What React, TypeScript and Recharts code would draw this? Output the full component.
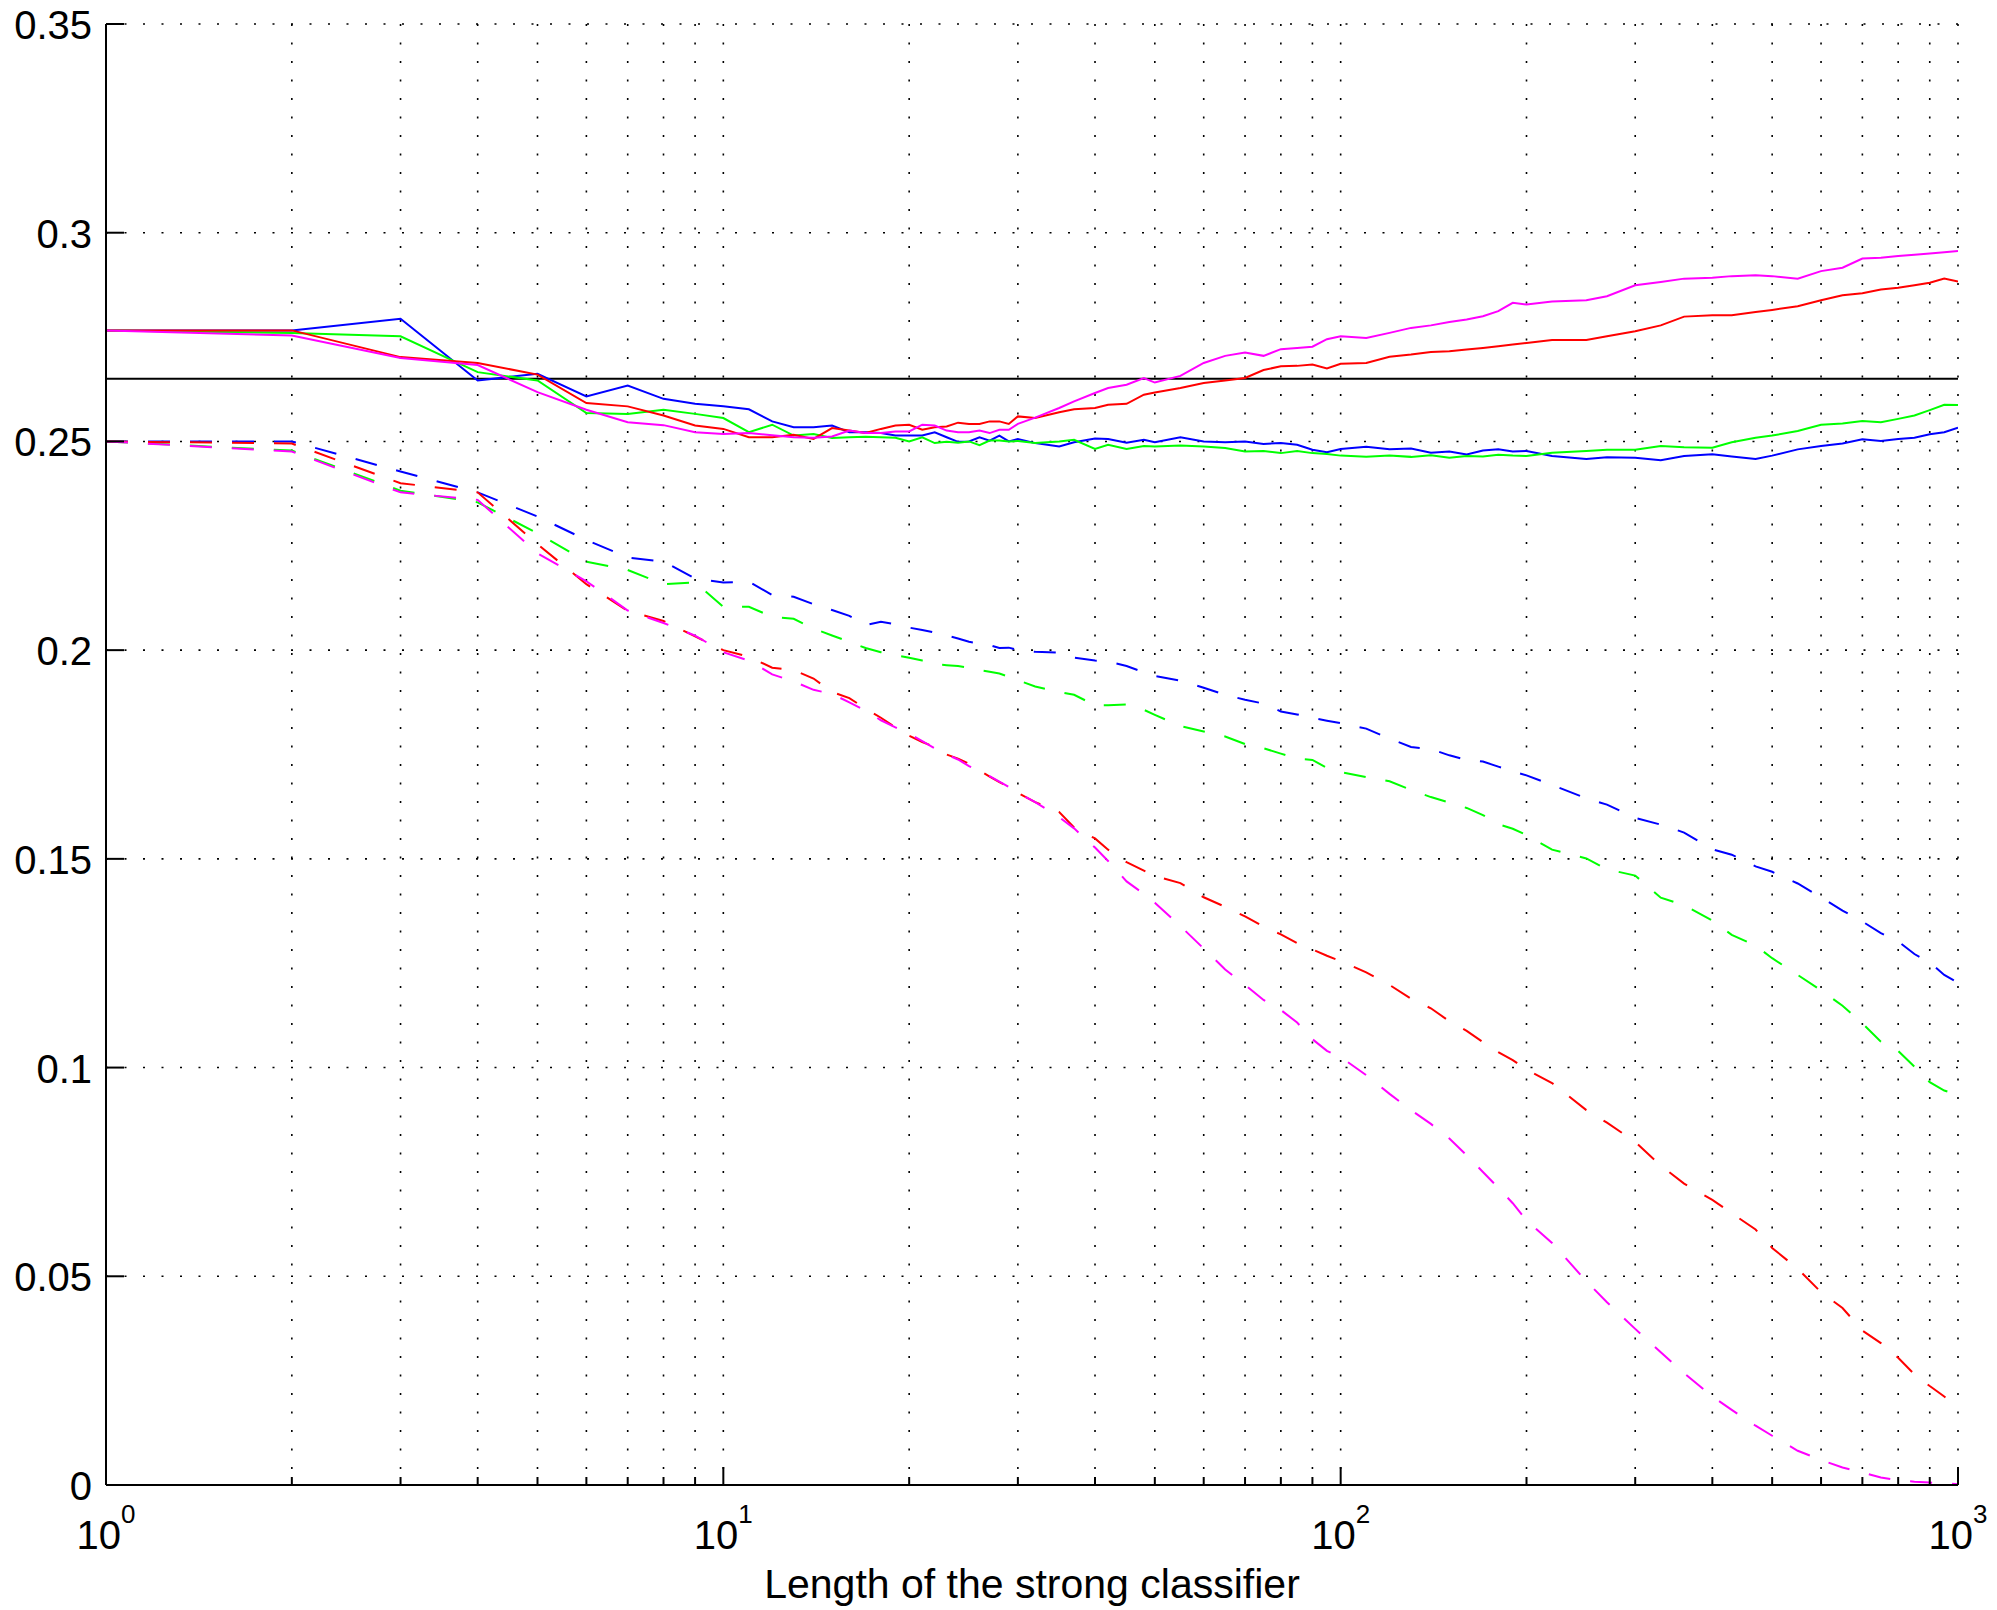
import React from "react";
import { LineChart, Line, XAxis, YAxis, CartesianGrid, ReferenceLine } from "recharts";

const FONT = "'Liberation Sans', Arial, Helvetica, sans-serif";

// classifier lengths (x, log axis)
const lengths = [
  1, 2, 3, 4, 5, 6, 7, 8, 9, 10, 11, 12, 13, 14, 15, 16, 17, 18, 19, 20, 21, 22, 23, 24, 25, 26, 27, 28, 29, 30,
  32, 35, 37, 40, 42, 45, 48, 50, 55, 60, 65, 70, 75, 80, 85, 90, 95, 100,
  110, 120, 130, 140, 150, 160, 170, 180, 190, 200,
  220, 250, 270, 300, 330, 360, 400, 430, 470, 500, 550, 600, 650, 700, 750, 800, 850, 900, 950, 1000,
];

// solid curves
const blueSolid = [
  0.2766, 0.2766, 0.2794, 0.2646, 0.2662, 0.2608, 0.2634, 0.2602, 0.259, 0.2584, 0.2577, 0.2548, 0.2534, 0.2534, 0.2538,
  0.2522, 0.2522, 0.252, 0.2514, 0.2514, 0.2514, 0.2522, 0.251, 0.2499, 0.25, 0.251, 0.2502, 0.2514, 0.25, 0.2506,
  0.2496, 0.2488, 0.2498, 0.2507, 0.2506, 0.2497, 0.2504, 0.2498, 0.251, 0.25, 0.2498, 0.25, 0.2494, 0.2496, 0.2492, 0.248, 0.2474, 0.2482,
  0.2487, 0.2481, 0.2483, 0.2473, 0.2476, 0.2469, 0.2478, 0.2481, 0.2476, 0.2477,
  0.2465, 0.2458, 0.2462, 0.2461, 0.2455, 0.2465, 0.2469, 0.2464, 0.2458, 0.2466, 0.2481, 0.2489, 0.2495, 0.2505, 0.2501, 0.2506, 0.2509, 0.2517, 0.2522, 0.2533,
];
const greenSolid = [
  0.2766, 0.276, 0.2752, 0.2666, 0.2646, 0.2568, 0.2566, 0.2576, 0.2566, 0.2556, 0.2522, 0.254, 0.2514, 0.2518, 0.2508,
  0.251, 0.2511, 0.251, 0.2509, 0.25, 0.251, 0.2496, 0.2499, 0.2497, 0.25, 0.2491, 0.2502, 0.2502, 0.25, 0.2501,
  0.2496, 0.25, 0.2504, 0.2482, 0.2492, 0.2482, 0.2489, 0.2488, 0.249, 0.2488, 0.2484, 0.2476, 0.2477, 0.2472, 0.2477, 0.2472, 0.247, 0.2466,
  0.2463, 0.2466, 0.2463, 0.2467, 0.2461, 0.2465, 0.2464, 0.2468, 0.2466, 0.2465,
  0.2473, 0.2477, 0.248, 0.248, 0.2489, 0.2486, 0.2485, 0.2498, 0.2509, 0.2514, 0.2525, 0.254, 0.2543, 0.2549, 0.2546, 0.2554, 0.2562, 0.2575, 0.2588, 0.2587,
];
const redSolid = [
  0.2766, 0.2766, 0.2702, 0.2688, 0.266, 0.2592, 0.2584, 0.2562, 0.2538, 0.253, 0.251, 0.251, 0.2516, 0.2506, 0.2532,
  0.2526, 0.252, 0.253, 0.2538, 0.254, 0.2528, 0.2534, 0.2536, 0.2545, 0.2542, 0.2542, 0.2548, 0.2548, 0.2542, 0.256,
  0.2556, 0.257, 0.2577, 0.258, 0.2588, 0.259, 0.2612, 0.2617, 0.2628, 0.264, 0.2646, 0.2652, 0.2671, 0.268, 0.2681, 0.2684, 0.2675, 0.2686,
  0.2688, 0.2703, 0.2708, 0.2714, 0.2716, 0.272, 0.2724, 0.2728, 0.2732, 0.2736,
  0.2743, 0.2743, 0.2752, 0.2764, 0.2778, 0.2799, 0.2802, 0.2802, 0.281, 0.2815, 0.2824, 0.2838, 0.285, 0.2855, 0.2864, 0.2868, 0.2874, 0.288, 0.289, 0.2883,
];
const magentaSolid = [
  0.2766, 0.2754, 0.27, 0.2683, 0.2618, 0.2576, 0.2546, 0.2539, 0.2522, 0.2518, 0.252, 0.2515, 0.251, 0.2509, 0.2512,
  0.2526, 0.252, 0.252, 0.2524, 0.2524, 0.254, 0.2538, 0.2526, 0.2522, 0.2522, 0.2526, 0.252, 0.2528, 0.2528, 0.2542,
  0.2557, 0.258, 0.2596, 0.2616, 0.2628, 0.2636, 0.2652, 0.2641, 0.2657, 0.2688, 0.2705, 0.2713, 0.2705, 0.2721, 0.2724, 0.2727, 0.2745, 0.2752,
  0.2748, 0.276, 0.2772, 0.2778, 0.2786, 0.2792, 0.28, 0.2812, 0.2832, 0.2828,
  0.2835, 0.2838, 0.2848, 0.2874, 0.2882, 0.289, 0.2892, 0.2896, 0.2898, 0.2896, 0.289, 0.2908, 0.2916, 0.2938, 0.294, 0.2944, 0.2947, 0.295, 0.2953, 0.2956,
];

// dashed curves
const blueDashed = [
  0.25, 0.25, 0.2428, 0.2378, 0.232, 0.2264, 0.2222, 0.2212, 0.2172, 0.2162, 0.2164, 0.2132, 0.2128, 0.211, 0.2096,
  0.2082, 0.206, 0.2068, 0.2062, 0.2054, 0.2048, 0.2042, 0.2035, 0.2028, 0.202, 0.2016, 0.2012, 0.2005, 0.2006, 0.2,
  0.1996, 0.1994, 0.1982, 0.1975, 0.1973, 0.1962, 0.1947, 0.1938, 0.1927, 0.191, 0.1893, 0.1881, 0.1872, 0.1853, 0.1846, 0.1838, 0.1831, 0.1825,
  0.1812, 0.1788, 0.1768, 0.1763, 0.1748, 0.1737, 0.1733, 0.1721, 0.171, 0.17,
  0.1677, 0.1645, 0.163, 0.1598, 0.1582, 0.1563, 0.1523, 0.151, 0.1482, 0.1469, 0.1441, 0.1408, 0.1376, 0.135, 0.1322, 0.1302, 0.1272, 0.1252, 0.1222, 0.1203,
];
const greenDashed = [
  0.25, 0.2478, 0.2382, 0.2354, 0.228, 0.2212, 0.2192, 0.2158, 0.2162, 0.2104, 0.2104, 0.208, 0.2075, 0.2052, 0.2035,
  0.202, 0.2005, 0.1995, 0.1988, 0.1982, 0.1975, 0.1966, 0.1964, 0.1962, 0.1958, 0.1952, 0.1948, 0.1944, 0.1936, 0.1928,
  0.1913, 0.19, 0.1893, 0.1868, 0.1868, 0.187, 0.1857, 0.1845, 0.1818, 0.1805, 0.1793, 0.1775, 0.1765, 0.1752, 0.174, 0.1737, 0.1718, 0.1708,
  0.1696, 0.1686, 0.1665, 0.1648, 0.1635, 0.1622, 0.1605, 0.1583, 0.1572, 0.1557,
  0.1522, 0.1501, 0.1475, 0.146, 0.1407, 0.1389, 0.1352, 0.1318, 0.1292, 0.1262, 0.1222, 0.1185, 0.1148, 0.1106, 0.1062, 0.104, 0.1002, 0.0965, 0.0945, 0.0935,
];
const redDashed = [
  0.25, 0.2495, 0.24, 0.2378, 0.2254, 0.2158, 0.2094, 0.207, 0.2033, 0.2, 0.1984, 0.1958, 0.1952, 0.1932, 0.19,
  0.1885, 0.186, 0.1838, 0.1815, 0.1795, 0.178, 0.1768, 0.175, 0.174, 0.1728, 0.1712, 0.1697, 0.1684, 0.1672, 0.1658,
  0.1636, 0.1612, 0.1575, 0.1549, 0.1522, 0.1492, 0.1472, 0.1459, 0.1442, 0.1408, 0.1385, 0.1362, 0.1338, 0.1319, 0.1298, 0.1283, 0.1268, 0.1255,
  0.1228, 0.1198, 0.1165, 0.1142, 0.1111, 0.1088, 0.1061, 0.1037, 0.1018, 0.0995,
  0.0963, 0.0898, 0.0868, 0.0822, 0.0765, 0.0722, 0.0683, 0.0651, 0.0612, 0.0568, 0.0518, 0.0462, 0.0424, 0.037, 0.034, 0.0305, 0.0265, 0.0237, 0.0212, 0.0185,
];
const magentaDashed = [
  0.25, 0.2476, 0.2378, 0.236, 0.2232, 0.2165, 0.2095, 0.2065, 0.2035, 0.1995, 0.1975, 0.1942, 0.1925, 0.1905, 0.1895,
  0.1875, 0.1855, 0.1832, 0.1815, 0.18, 0.1782, 0.1765, 0.175, 0.1738, 0.1722, 0.171, 0.1698, 0.1685, 0.1672, 0.1658,
  0.1636, 0.16, 0.1573, 0.1527, 0.1495, 0.1446, 0.1416, 0.1395, 0.1339, 0.1285, 0.1235, 0.1198, 0.1162, 0.1138, 0.1108, 0.1068, 0.104, 0.1025,
  0.0982, 0.0937, 0.0898, 0.0865, 0.083, 0.079, 0.075, 0.0712, 0.0675, 0.0634,
  0.058, 0.0488, 0.0438, 0.0374, 0.0318, 0.0268, 0.0212, 0.018, 0.0142, 0.0118, 0.0082, 0.006, 0.0042, 0.003, 0.0018, 0.0011, 0.0008, 0.0006, 0.0004, 0.0002,
];

// horizontal reference level
const threshold = 0.265;

const xTicks = [1, 2, 3, 4, 5, 6, 7, 8, 9, 10, 20, 30, 40, 50, 60, 70, 80, 90, 100, 200, 300, 400, 500, 600, 700, 800, 900, 1000];
const yTicks = [0, 0.05, 0.1, 0.15, 0.2, 0.25, 0.3, 0.35];

const data = lengths.map((x, i) => ({
  x,
  blueSolid: blueSolid[i],
  greenSolid: greenSolid[i],
  redSolid: redSolid[i],
  magentaSolid: magentaSolid[i],
  blueDashed: blueDashed[i],
  greenDashed: greenDashed[i],
  redDashed: redDashed[i],
  magentaDashed: magentaDashed[i],
}));

const series = [
  { key: "blueDashed", color: "#0000ff", dash: "22 20" },
  { key: "greenDashed", color: "#00ff00", dash: "22 20" },
  { key: "redDashed", color: "#ff0000", dash: "22 20" },
  { key: "magentaDashed", color: "#ff00ff", dash: "22 20" },
  { key: "blueSolid", color: "#0000ff" },
  { key: "greenSolid", color: "#00ff00" },
  { key: "redSolid", color: "#ff0000" },
  { key: "magentaSolid", color: "#ff00ff" },
];

function XTick(props: any) {
  const { x, y, payload } = props;
  const v = payload.value;
  const exp = Math.log10(v);
  const major = Math.abs(exp - Math.round(exp)) < 1e-9;
  return (
    <g>
      <line x1={x} y1={y} x2={x} y2={y - (major ? 18 : 8)} stroke="#000" strokeWidth={2} />
      {major && (
        <text x={x} y={y + 64} textAnchor="middle" fontSize={40} fontFamily={FONT} fill="#000">
          10
          <tspan dy={-26} fontSize={26}>
            {Math.round(exp)}
          </tspan>
        </text>
      )}
    </g>
  );
}

function YTick(props: any) {
  const { x, y, payload } = props;
  return (
    <g>
      <line x1={x} y1={y} x2={x + 18} y2={y} stroke="#000" strokeWidth={2} />
      <text x={x - 14} y={y + 15} textAnchor="end" fontSize={40} fontFamily={FONT} fill="#000">
        {String(payload.value)}
      </text>
    </g>
  );
}

function XLabel(props: any) {
  const vb = props.viewBox || props;
  return (
    <text x={vb.x + vb.width / 2} y={vb.y + 113} textAnchor="middle" fontSize={41} fontFamily={FONT} fill="#000">
      Length of the strong classifier
    </text>
  );
}

export default function App() {
  return (
    <div style={{ position: "absolute", left: 0, top: 0, background: "#fff" }}>
      <LineChart width={1997} height={1610} data={data} margin={{ top: 24, right: 39, bottom: 0, left: 0 }}>
        <CartesianGrid stroke="#000" strokeWidth={1.6} strokeDasharray="2 16.5" />
        <XAxis
          dataKey="x"
          type="number"
          scale="log"
          domain={[1, 1000]}
          allowDataOverflow
          ticks={xTicks}
          interval={0}
          height={125}
          tickSize={0}
          tickMargin={0}
          tickLine={false}
          tick={<XTick />}
          axisLine={{ stroke: "#000", strokeWidth: 2 }}
          label={XLabel}
        />
        <YAxis
          type="number"
          domain={[0, 0.35]}
          allowDataOverflow
          ticks={yTicks}
          interval={0}
          width={106}
          tickSize={0}
          tickMargin={0}
          tickLine={false}
          tick={<YTick />}
          axisLine={{ stroke: "#000", strokeWidth: 2 }}
        />
        <ReferenceLine y={threshold} stroke="#000" strokeWidth={2} />
        {series.map((s) => (
          <Line
            key={s.key}
            dataKey={s.key}
            type="linear"
            stroke={s.color}
            strokeWidth={2}
            strokeDasharray={s.dash}
            dot={false}
            activeDot={false}
            isAnimationActive={false}
          />
        ))}
      </LineChart>
    </div>
  );
}
